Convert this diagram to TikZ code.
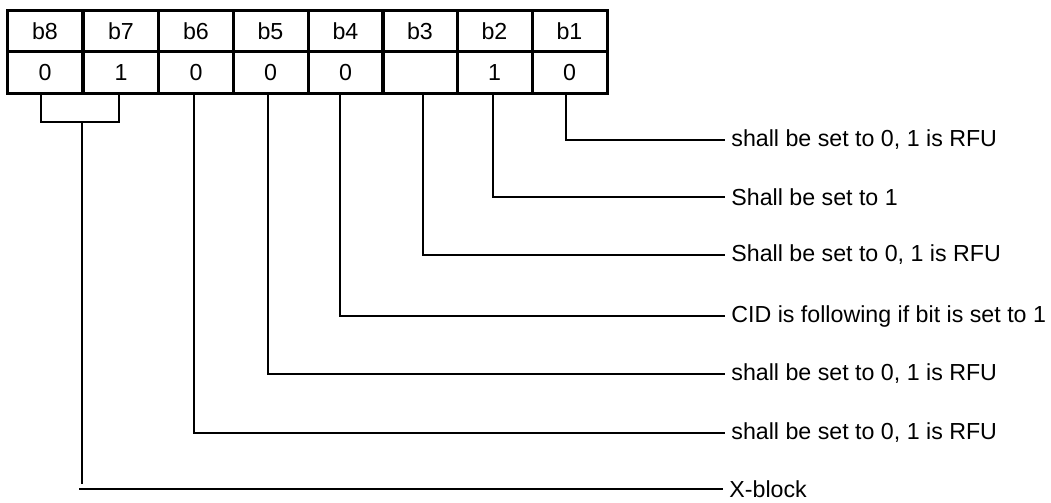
\documentclass[tikz,border=0pt]{standalone}
\usepackage{fontspec}
\setmainfont{Liberation Sans}
\begin{document}
\begin{tikzpicture}[x=0.5pt,y=-0.5pt,
  cell/.style={draw,line width=1.5pt,minimum width=37.5pt,minimum height=20.75pt,inner sep=0pt,anchor=center},
  conn/.style={line width=1pt},
  lbl/.style={anchor=west,inner sep=3pt}]
\fontsize{11.6}{14}\selectfont
\useasboundingbox (0,0) rectangle (1051,503);
% header row
\node[cell] (h8) at (45,31) {b8};
\node[cell] (h7) at (121,31) {b7};
\node[cell] (h6) at (196,31) {b6};
\node[cell] (h5) at (270.5,31) {b5};
\node[cell] (h4) at (345.5,31) {b4};
\node[cell] (h3) at (420,31) {b3};
\node[cell] (h2) at (494.5,31) {b2};
\node[cell] (h1) at (569.5,31) {b1};
% value row
\node[cell] (v8) at (45,72.5) {0};
\node[cell] (v7) at (121,72.5) {1};
\node[cell] (v6) at (196,72.5) {0};
\node[cell] (v5) at (270.5,72.5) {0};
\node[cell] (v4) at (345.5,72.5) {0};
\node[cell] (v3) at (420,72.5) {};
\node[cell] (v2) at (494.5,72.5) {1};
\node[cell] (v1) at (569.5,72.5) {0};
% labels
\node[lbl] (l1) at (725,140) {shall be set to 0, 1 is RFU};
\node[lbl] (l2) at (725,197) {Shall be set to 1};
\node[lbl] (l3) at (725,255) {Shall be set to 0, 1 is RFU};
\node[lbl] (l4) at (725,316) {CID is following if bit is set to 1};
\node[lbl] (l5) at (725,374) {shall be set to 0, 1 is RFU};
\node[lbl] (l6) at (725,433) {shall be set to 0, 1 is RFU};
\node[lbl] (lx) at (723,489) {X-block};
% connectors
\draw[conn] (v1.south) ++(-3.5,0) |- (l1.west);
\draw[conn] (v2.south) ++(-1.5,0) |- (l2.west);
\draw[conn] (v3.south) ++(3,0) |- (l3.west);
\draw[conn] (v4.south) ++(-5.5,0) |- (l4.west);
\draw[conn] (v5.south) ++(-2.5,0) |- (l5.west);
\draw[conn] (v6.south) ++(-2,0) |- (l6.west);
% bracket b8/b7
\coordinate (br) at (82,122);
\coordinate (xc) at (82,484);
\coordinate (xs) at (79,489);
\draw[conn] (v8.south) ++(-4,0) |- (br) -| ([xshift=-1pt]v7.south);
\draw[conn] (br) -- (xc);
\draw[conn] (xs) -- (lx.west);
\end{tikzpicture}
\end{document}
